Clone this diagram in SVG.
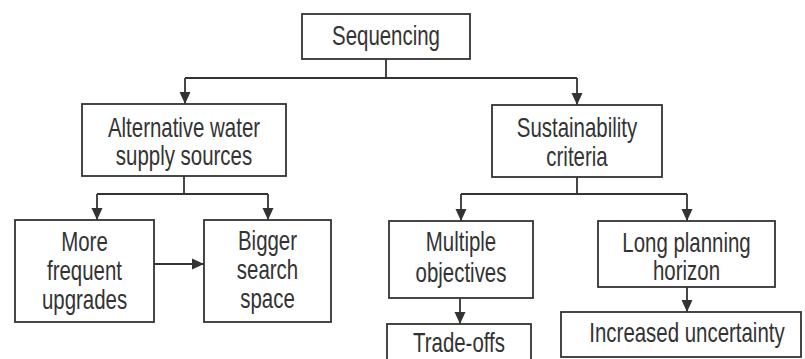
<svg xmlns="http://www.w3.org/2000/svg" width="805" height="359" viewBox="0 0 805 359">
<style>
.box{fill:#fff;stroke:#333;stroke-width:1.8}
.t{font-family:"Liberation Sans",Arial,sans-serif;font-size:28px;fill:#333;text-anchor:middle}
.c{fill:none;stroke:#333;stroke-width:1.8}
</style>
<defs>
<marker id="ah" markerUnits="userSpaceOnUse" markerWidth="12" markerHeight="12" viewBox="0 0 12 12" refX="12" refY="6" orient="auto">
<path d="M0,0.5 L12,6 L0,11.5 Z" fill="#333"/>
</marker>
</defs>
<rect width="805" height="359" fill="#fff"/>
<g id="connectors">
<path class="c" d="M386,59 V78 M185,78 H577"/>
<path class="c" d="M185,78 V104" marker-end="url(#ah)"/>
<path class="c" d="M577,78 V105" marker-end="url(#ah)"/>
<path class="c" d="M184,176 V194 M97,194 H268"/>
<path class="c" d="M97,194 V220" marker-end="url(#ah)"/>
<path class="c" d="M268,194 V220" marker-end="url(#ah)"/>
<path class="c" d="M154,264 H204" marker-end="url(#ah)"/>
<path class="c" d="M577,177 V194 M461,194 H687"/>
<path class="c" d="M461,194 V221" marker-end="url(#ah)"/>
<path class="c" d="M687,194 V221" marker-end="url(#ah)"/>
<path class="c" d="M460,298 V324" marker-end="url(#ah)"/>
<path class="c" d="M687,287 V312" marker-end="url(#ah)"/>
</g>
<g id="sequencing">
<rect class="box" x="302" y="14" width="168" height="45"/>
<text class="t" transform="translate(386,45) scale(0.73,1)">Sequencing</text>
</g>
<g id="alternative">
<rect class="box" x="82" y="104" width="204" height="72"/>
<text class="t" transform="translate(184,137) scale(0.73,1)"><tspan x="0">Alternative water</tspan><tspan x="0" dy="28">supply sources</tspan></text>
</g>
<g id="sustainability">
<rect class="box" x="492" y="105" width="170" height="72"/>
<text class="t" transform="translate(577,137) scale(0.73,1)"><tspan x="0">Sustainability</tspan><tspan x="0" dy="29">criteria</tspan></text>
</g>
<g id="more">
<rect class="box" x="15" y="220" width="139" height="102"/>
<text class="t" transform="translate(84.5,251) scale(0.73,1)"><tspan x="0">More</tspan><tspan x="0" dy="29">frequent</tspan><tspan x="0" dy="29">upgrades</tspan></text>
</g>
<g id="bigger">
<rect class="box" x="204" y="220" width="127" height="102"/>
<text class="t" transform="translate(267.5,250) scale(0.73,1)"><tspan x="0">Bigger</tspan><tspan x="0" dy="29">search</tspan><tspan x="0" dy="29">space</tspan></text>
</g>
<g id="multiple">
<rect class="box" x="389" y="221" width="144" height="77"/>
<text class="t" transform="translate(461,251) scale(0.73,1)"><tspan x="0">Multiple</tspan><tspan x="0" dy="31">objectives</tspan></text>
</g>
<g id="long">
<rect class="box" x="598" y="221" width="177" height="66"/>
<text class="t" transform="translate(686.5,252) scale(0.73,1)"><tspan x="0">Long planning</tspan><tspan x="0" dy="28">horizon</tspan></text>
</g>
<g id="tradeoffs">
<rect class="box" x="387" y="324" width="144" height="45"/>
<text class="t" transform="translate(459,352) scale(0.73,1)">Trade-offs</text>
</g>
<g id="increased">
<rect class="box" x="561" y="312" width="240" height="45"/>
<text class="t" transform="translate(687,342) scale(0.73,1)">Increased uncertainty</text>
</g>
</svg>
